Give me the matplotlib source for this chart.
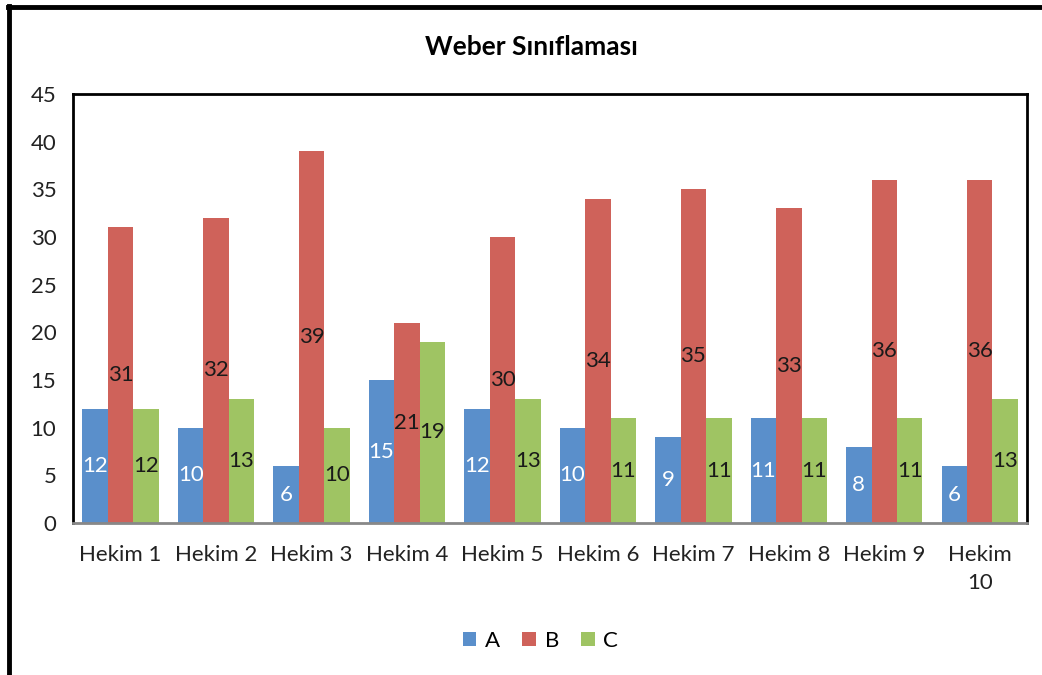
import numpy as np
import matplotlib.pyplot as plt
from matplotlib.lines import Line2D

plt.rcParams['font.family'] = ['Lato', 'DejaVu Sans']

categories = ["Hekim 1", "Hekim 2", "Hekim 3", "Hekim 4", "Hekim 5",
              "Hekim 6", "Hekim 7", "Hekim 8", "Hekim 9", "Hekim\n10"]
series_names = ["A", "B", "C"]
a_vals = [12, 10, 6, 15, 12, 10, 9, 11, 8, 6]
b_vals = [31, 32, 39, 21, 30, 34, 35, 33, 36, 36]
c_vals = [12, 13, 10, 19, 13, 11, 11, 11, 11, 13]
colors = ["#5A8FCB", "#CF625A", "#9FC463"]
label_colors = ["white", "#1a1a1a", "#1a1a1a"]

fig = plt.figure(figsize=(10.42, 6.75), dpi=100)
ax = fig.add_axes([0.070, 0.225, 0.916, 0.636])

x = np.arange(len(categories))
w = 0.8 / 3
for i, (vals, col, lc, name) in enumerate(zip([a_vals, b_vals, c_vals], colors, label_colors, series_names)):
    bars = ax.bar(x + (i - 1) * w, vals, width=w, color=col, label=name)
    for rect, v in zip(bars, vals):
        ax.text(rect.get_x() + rect.get_width() / 2, v / 2, str(v),
                ha="center", va="center", color=lc, fontsize=16)

ax.set_xlim(-0.5, len(categories) - 0.5)
ax.set_ylim(0, 45)
ax.set_yticks(range(0, 46, 5))
ax.set_xticks(x)
ax.set_xticklabels(categories, fontsize=16, color="#222222", linespacing=1.45)
ax.tick_params(axis="y", labelsize=16, length=0, pad=12, labelcolor="#222222")
ax.tick_params(axis="x", length=0, pad=16)
for s in ["left", "top", "right"]:
    ax.spines[s].set_color("black")
    ax.spines[s].set_linewidth(2)
ax.spines["bottom"].set_color("#888888")
ax.spines["bottom"].set_linewidth(2)

fig.text(0.51, 0.930, "Weber Sınıflaması", ha="center", va="center",
         fontsize=19, fontweight="bold", color="black")

ax.legend(loc="center", bbox_to_anchor=(0.49, -0.275), ncol=3, frameon=False,
          fontsize=16, handlelength=0.6, handleheight=0.6, handletextpad=0.4,
          columnspacing=1.0)

# outer frame (left and top edges visible)
fig.add_artist(Line2D([0.009, 0.009], [0, 0.991], transform=fig.transFigure,
                      color="black", linewidth=3.5))
fig.add_artist(Line2D([0.008, 1.0], [0.990, 0.990], transform=fig.transFigure,
                      color="black", linewidth=3.5))

fig.savefig("out.png", dpi=100, facecolor="white")
